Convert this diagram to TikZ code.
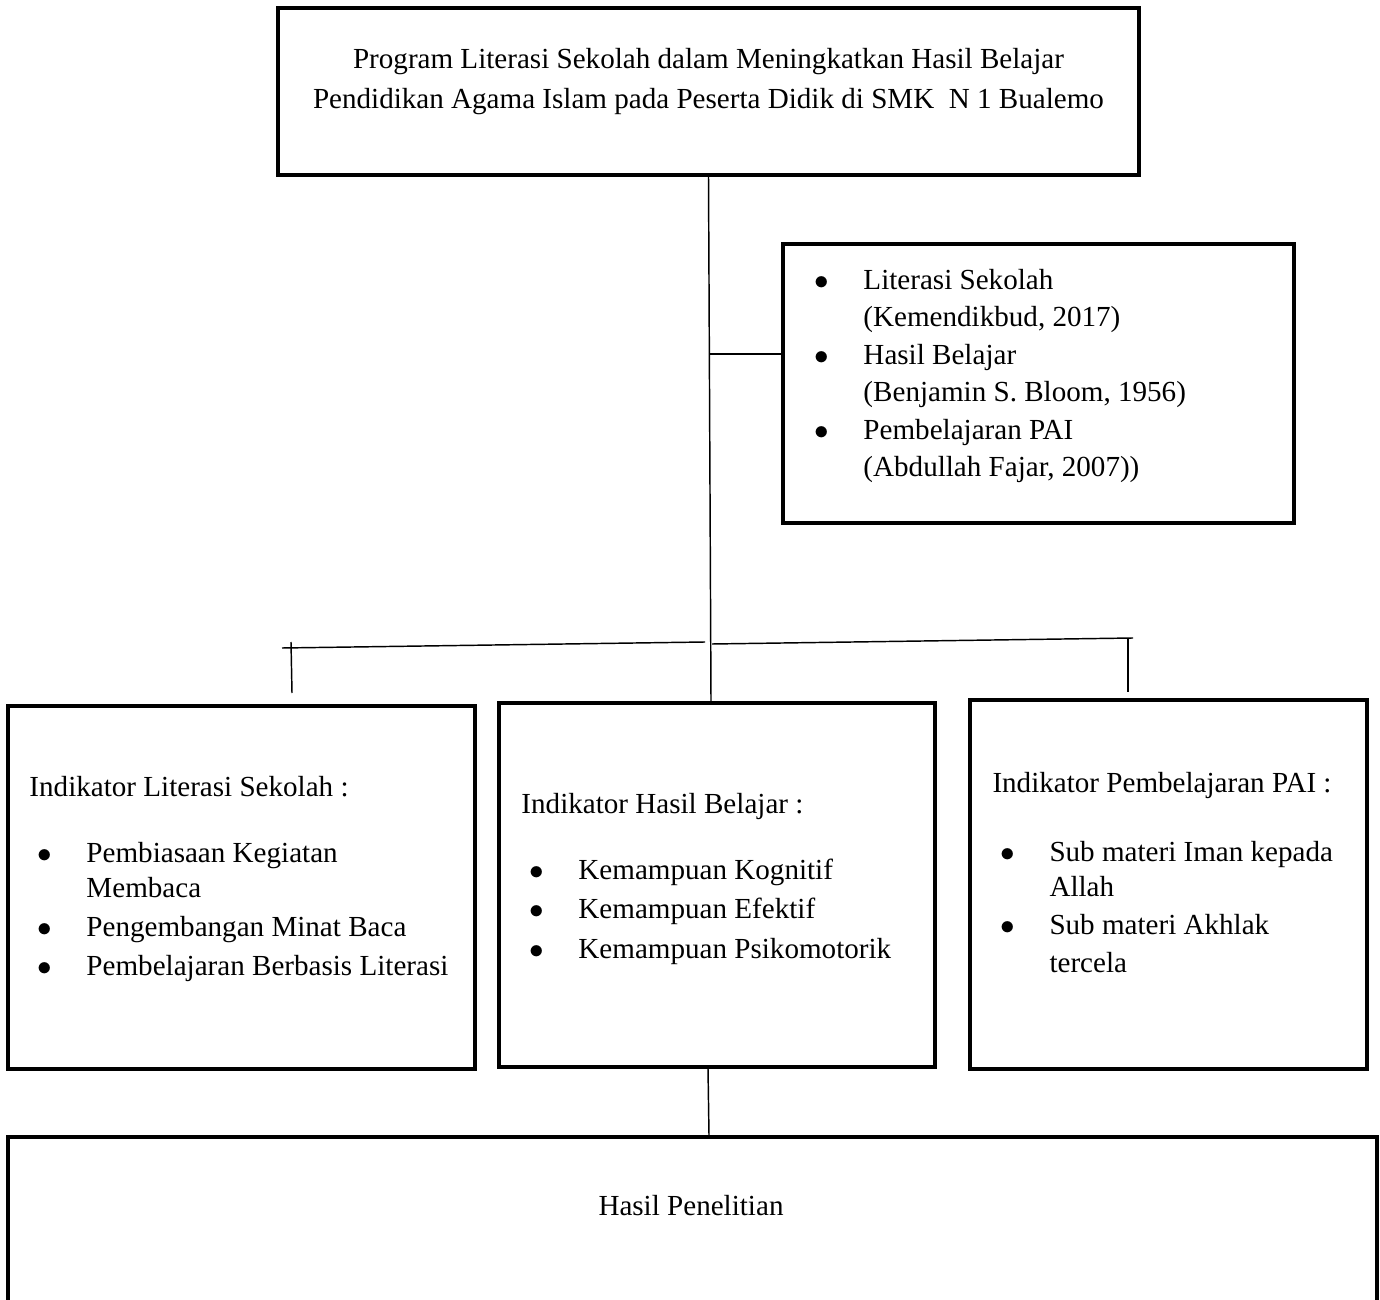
\documentclass[tikz,border=0pt]{standalone}
\usepackage{fontspec}
\setmainfont{Liberation Serif}
\usetikzlibrary{calc}
\newlength{\pxu}
\setlength{\pxu}{0.4125pt}
\newcommand{\Bul}{\makebox[57\pxu][l]{\makebox[30\pxu]{$\bullet$}}}
\newcommand{\Ind}{\hspace*{57\pxu}}
\tikzset{
  boxframe/.style 2 args={draw,line width=1.4pt,inner sep=0pt,minimum width=#1*\pxu,minimum height=#2*\pxu},
  conn/.style={line width=0.6pt},
  txt/.style={inner sep=0pt,align=left,font=\fontsize{12}{14.44}\selectfont}
}
\begin{document}
\begin{tikzpicture}[x=0.4125pt,y=-0.4125pt]
\useasboundingbox (0,0) rectangle (1380,1300);

\node[boxframe={861}{167}] (title) at (708.5,91.5) {};
\node[txt,align=center,anchor=base,font=\fontsize{12}{16.5}\selectfont] (titleText) at (708.5,109) {Program Literasi Sekolah dalam Meningkatkan Hasil Belajar\\Pendidikan Agama Islam pada Peserta Didik di SMK\ \ N 1 Bualemo};

\node[boxframe={511}{279}] (refs) at (1038.5,383.5) {};
\node[txt,anchor=base west,font=\fontsize{12}{15.5}\selectfont] (refsText) at (806,477) {\Bul Literasi Sekolah\\ \Ind (Kemendikbud, 2017)\\ \Bul Hasil Belajar\\ \Ind (Benjamin S. Bloom, 1956)\\ \Bul Pembelajaran PAI\\ \Ind (Abdullah Fajar, 2007))};

\node[boxframe={467}{363}] (litBox) at (241.5,887.5) {};
\node[txt,anchor=base west] (litText) at (29,975) {Indikator Literasi Sekolah :\\[31\pxu] \Bul Pembiasaan Kegiatan\\ \Ind Membaca\\[4\pxu] \Bul Pengembangan Minat Baca\\[3\pxu] \Bul Pembelajaran Berbasis Literasi};

\node[boxframe={436}{364}] (hasilBox) at (717,885) {};
\node[txt,anchor=base west,font=\fontsize{12}{16.1}\selectfont] (hasilText) at (521,958) {Indikator Hasil Belajar :\\[27\pxu] \Bul Kemampuan Kognitif\\ \Bul Kemampuan Efektif\\ \Bul Kemampuan Psikomotorik};

\node[boxframe={397}{369}] (paiBox) at (1168.5,884.5) {};
\node[txt,anchor=base west] (paiText) at (992,972) {Indikator Pembelajaran PAI :\\[34\pxu] \Bul Sub materi Iman kepada\\ \Ind Allah\\[3\pxu] \Bul Sub materi Akhlak\\[2\pxu] \Ind tercela};

\node[boxframe={1369}{300}] (result) at (692.5,1287) {};
\node[txt,anchor=base] (resultText) at (691,1215) {Hasil Penelitian};

\draw[conn] (title.south) -- ($(hasilBox.north)+(-6,0)$);
\coordinate (refsJoin) at (710,354);
\draw[conn] (refsJoin) -- (refsJoin -| refs.west);
\coordinate (barL) at (282,648);
\coordinate (barLM) at (705,642);
\coordinate (barRM) at (712,644);
\coordinate (barR) at (1133,638);
\draw[conn] (barL) -- (barLM);
\draw[conn] (barRM) -- (barR);
\coordinate (tickL) at (291,642);
\coordinate (tickR) at (1128,638);
\draw[conn] (tickL) -- ++(1,51);
\draw[conn] (tickR) -- ++(0,54);
\draw[conn] ($(hasilBox.south)+(-9,0)$) -- ($(result.north)+(16.5,0)$);
\end{tikzpicture}
\end{document}
